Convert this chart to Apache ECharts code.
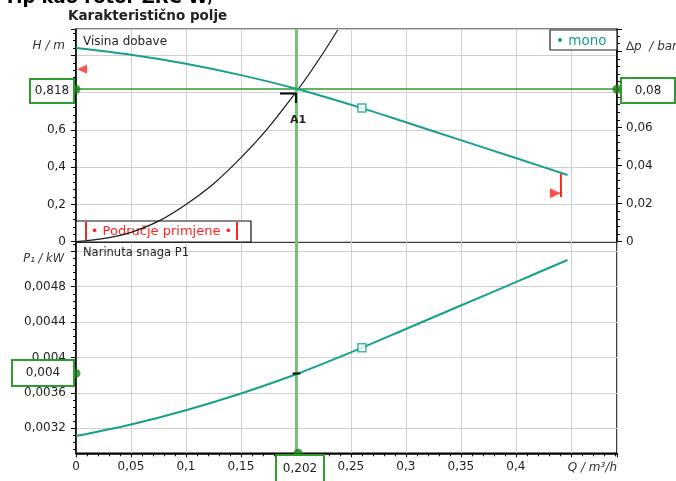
<!DOCTYPE html>
<html><head><meta charset="utf-8">
<script src="https://cdn.jsdelivr.net/npm/echarts@6/dist/echarts.min.js"></script>
<style>html,body{margin:0;padding:0;background:#fff}#c{width:676px;height:481px}</style>
</head><body><div id="c"></div>
<script>
// ---- data ----
const qCurve     = [0, 0.05, 0.1, 0.15, 0.202, 0.26, 0.3, 0.35, 0.4, 0.447];
const headCurve  = [1.039, 1.003, 0.955, 0.894, 0.818, 0.717, 0.641, 0.545, 0.449, 0.358];
const powerCurve = [0.003113, 0.003244, 0.003405, 0.003594, 0.00382, 0.00411, 0.004322, 0.004587, 0.004852, 0.005101];
const qSystem = [0, 0.05, 0.1, 0.15, 0.2, 0.238];
const hSystem = [0, 0.05, 0.2, 0.451, 0.802, 1.136];
const dutyPoint = [0.202, 0.818];        // Q, H
const dutyDp = 0.08;                      // bar
const dutyP = 0.00382;                    // kW
const dutyPLabel = 0.004;
const markerPoint = [0.26, 0.717, 0.00411]; // Q, H, P
const limitLeft = [0.0055, 0.926];
const limitRight = [0.441, 0.365, 0.24];  // Q, H top, H bottom
const limitFlag = [0.436, 0.26];
const a1Mark = [[0.1855, 0.796], [0.2, 0.796], [0.2, 0.745]];
const qRange = [0, 0.492];
const hRange = [0, 1.14];
const pRange = [0.002918, 0.005308];
const pTickValues = [0.0032, 0.0036, 0.004, 0.0044, 0.0048, 0.0052];
const pLabelValues = [0.0032, 0.0036, 0.004, 0.0044, 0.0048];

const dpMax = hRange[1] * dutyDp / dutyPoint[1];
const pMinor = [];
for (let v = 0.00296; v < pRange[1]; v += 0.00008) pMinor.push(+v.toFixed(6));

const teal = '#17a08c', dkGreen = '#2f9a2f', ltGreen = '#74c474', dotGreen = '#1b7d1b', red = '#ff2424';
const fmt = v => String(parseFloat((+v).toFixed(6))).replace('.', ',');
const FONT = '"DejaVu Sans", Verdana, sans-serif';
const lblStyle = { fontSize: 12, color: '#1e1e1e', fontFamily: FONT };
const near = (a, b) => Math.abs(a - b) < 1e-9;

const chart = echarts.init(document.getElementById('c'), null, { renderer: 'canvas' });

const G0 = { left: 76, right: 59, top: 29.3, height: 212.4 };
const G1 = { left: 76, right: 59, top: 241.7, height: 211.6 };

function xAx(gi, labels) {
  return {
    type: 'value', gridIndex: gi, min: qRange[0], max: qRange[1], interval: 0.05,
    axisLine: { show: labels, lineStyle: { color: '#000', width: 1.5 } },
    axisTick: { show: labels, length: 4, lineStyle: { color: '#000' } },
    minorTick: { show: labels, splitNumber: 5, length: 3, lineStyle: { color: '#000' } },
    axisLabel: { show: labels, margin: 8, showMaxLabel: false, ...lblStyle,
      formatter: v => near(v, 0.45) ? '' : fmt(v) },
    splitLine: { show: true, lineStyle: { color: '#cfcfcf', width: 1 } }
  };
}

function txt(x, y, text, font, fill, align) {
  return { type: 'text', x, y, z: 101, style: { text, fill: fill || '#222', font: font + ' ' + FONT,
    textAlign: align || 'left', align: align || 'left', textVerticalAlign: 'middle', verticalAlign: 'middle' } };
}

const option = {
  animation: false,
  backgroundColor: '#fff',
  grid: [
    { ...G0, show: true, borderColor: '#000', borderWidth: 1.5, backgroundColor: 'transparent' },
    { ...G1, show: true, borderColor: '#000', borderWidth: 1.5, backgroundColor: 'transparent' }
  ],
  xAxis: [xAx(0, false), xAx(1, true)],
  yAxis: [
    { type: 'value', gridIndex: 0, position: 'left', min: hRange[0], max: hRange[1], interval: 0.2,
      axisLine: { show: true, lineStyle: { color: '#000', width: 1.5 } },
      axisTick: { show: true, length: 5, lineStyle: { color: '#000' } },
      minorTick: { show: true, splitNumber: 5, length: 3, lineStyle: { color: '#000' } },
      axisLabel: { margin: 10, showMaxLabel: false, ...lblStyle, formatter: v => near(v, 1) ? '' : fmt(v) },
      splitLine: { show: true, lineStyle: { color: '#cfcfcf', width: 1 } } },
    { type: 'value', gridIndex: 0, position: 'right', min: 0, max: dpMax, interval: 0.02,
      axisLine: { show: true, lineStyle: { color: '#000', width: 1.5 } },
      axisTick: { show: true, length: 5, lineStyle: { color: '#000' } },
      minorTick: { show: true, splitNumber: 5, length: 3, lineStyle: { color: '#000' } },
      axisLabel: { margin: 9, showMaxLabel: false, ...lblStyle, formatter: v => near(v, 0.1) ? '' : fmt(v) },
      splitLine: { show: false } },
    { type: 'value', gridIndex: 1, position: 'left', min: pRange[0], max: pRange[1],
      axisLine: { show: true, lineStyle: { color: '#000', width: 1.5 } },
      axisTick: { show: true, length: 5, customValues: pTickValues, lineStyle: { color: '#000' } },
      axisLabel: { margin: 10, customValues: pLabelValues, ...lblStyle, formatter: v => fmt(v) },
      splitLine: { show: true, lineStyle: { color: '#cfcfcf', width: 1 } } },
    { type: 'value', gridIndex: 1, position: 'left', min: pRange[0], max: pRange[1],
      axisLine: { show: false },
      axisTick: { show: true, length: 3, customValues: pMinor, lineStyle: { color: '#000' } },
      axisLabel: { show: false },
      splitLine: { show: false } }
  ],
  series: [
    { type: 'line', xAxisIndex: 0, yAxisIndex: 0, smooth: 0.3, symbol: 'none', z: 5,
      data: qCurve.map((q, i) => [q, headCurve[i]]),
      lineStyle: { color: teal, width: 2 },
      markLine: { silent: true, symbol: 'none', label: { show: false },
        data: [
          { yAxis: dutyPoint[1], lineStyle: { color: dkGreen, width: 1.5, type: 'solid' } },
          { xAxis: dutyPoint[0], lineStyle: { color: ltGreen, width: 3, type: 'solid' } }
        ] } },
    { type: 'line', xAxisIndex: 0, yAxisIndex: 0, smooth: 0.4, symbol: 'none', z: 4,
      data: qSystem.map((q, i) => [q, hSystem[i]]),
      lineStyle: { color: '#1a1a1a', width: 1.2 } },
    { type: 'scatter', xAxisIndex: 0, yAxisIndex: 0, symbol: 'rect', symbolSize: 8, z: 6,
      data: [[markerPoint[0], markerPoint[1]]],
      itemStyle: { color: '#fff', borderColor: teal, borderWidth: 1.5 } },
    { type: 'scatter', xAxisIndex: 0, yAxisIndex: 0, symbol: 'circle', symbolSize: 9, clip: false, z: 7,
      data: [[qRange[0], dutyPoint[1]], [qRange[1], dutyPoint[1]]],
      itemStyle: { color: dotGreen } },
    { type: 'line', xAxisIndex: 0, yAxisIndex: 0, symbol: 'none', z: 8,
      data: a1Mark, lineStyle: { color: '#000', width: 2 } },
    { type: 'scatter', xAxisIndex: 0, yAxisIndex: 0, symbol: 'triangle', symbolRotate: 90, symbolSize: [9, 10], clip: false, z: 7,
      data: [limitLeft], itemStyle: { color: red } },
    { type: 'line', xAxisIndex: 0, yAxisIndex: 0, symbol: 'none', z: 7,
      data: [[limitRight[0], limitRight[1]], [limitRight[0], limitRight[2]]],
      lineStyle: { color: red, width: 2 } },
    { type: 'scatter', xAxisIndex: 0, yAxisIndex: 0, symbol: 'triangle', symbolRotate: -90, symbolSize: [10, 11], z: 7,
      data: [limitFlag], itemStyle: { color: red } },

    { type: 'line', xAxisIndex: 1, yAxisIndex: 2, smooth: 0.3, symbol: 'none', z: 5,
      data: qCurve.map((q, i) => [q, powerCurve[i]]),
      lineStyle: { color: teal, width: 2 },
      markLine: { silent: true, symbol: 'none', label: { show: false },
        data: [
          { yAxis: dutyP, lineStyle: { color: dkGreen, width: 1.5, type: 'solid' } },
          { xAxis: dutyPoint[0], lineStyle: { color: ltGreen, width: 3, type: 'solid' } }
        ] } },
    { type: 'scatter', xAxisIndex: 1, yAxisIndex: 2, symbol: 'rect', symbolSize: 8, z: 6,
      data: [[markerPoint[0], markerPoint[2]]],
      itemStyle: { color: '#fff', borderColor: teal, borderWidth: 1.5 } },
    { type: 'scatter', xAxisIndex: 1, yAxisIndex: 2, symbol: 'circle', symbolSize: 9, clip: false, z: 7,
      data: [[qRange[0], dutyP], [dutyPoint[0], pRange[0]]],
      itemStyle: { color: dotGreen } },
    { type: 'line', xAxisIndex: 1, yAxisIndex: 2, symbol: 'none', z: 7,
      data: [[dutyPoint[0] - 0.005, dutyP], [dutyPoint[0] + 0.002, dutyP]],
      lineStyle: { color: '#000', width: 2 } }
  ],
  graphic: [
    { type: 'text', left: 4, top: -11, z: 100, style: { text: 'Tip kao rotor ZRC W/', fill: '#000', font: 'bold 18px ' + FONT } },
    txt(68, 16, 'Karakteristično polje', 'bold 13.5px', '#222'),
    txt(83, 41.5, 'Visina dobave', '12px', '#222'),
    txt(83, 253, 'Narinuta snaga P1', '11.5px', '#222'),
    txt(65, 46, 'H / m', 'italic 12px', '#333', 'right'),
    txt(626, 47, '∆p  / bar', 'italic 12px', '#333'),
    txt(64, 259, 'P₁ / kW', 'italic 11.5px', '#333', 'right'),
    txt(617, 468, 'Q / m³/h', 'italic 12px', '#333', 'right'),
    txt(298, 120.5, 'A1', 'bold 11px', '#222', 'center'),
    // legend
    { type: 'rect', z: 100, shape: { x: 550, y: 30, width: 67, height: 20 }, style: { fill: '#fff', stroke: '#222', lineWidth: 1.2 } },
    txt(556, 41, '• mono', '13.5px', teal),
    // application range box
    { type: 'rect', z: 1, shape: { x: 76, y: 221, width: 175, height: 21 }, style: { fill: '#fff', stroke: '#111', lineWidth: 1.2 } },
    { type: 'line', z: 3, shape: { x1: 86, y1: 222, x2: 86, y2: 240 }, style: { stroke: red, lineWidth: 2 } },
    { type: 'line', z: 3, shape: { x1: 237, y1: 222, x2: 237, y2: 240 }, style: { stroke: red, lineWidth: 2 } },
    { ...txt(161.5, 231.5, '• Područje primjene •', '13px', red, 'center'), z: 3 },
    // green value boxes
    { type: 'rect', z: 100, shape: { x: 30, y: 79, width: 44, height: 24 }, style: { fill: '#fff', stroke: dkGreen, lineWidth: 2 } },
    txt(52, 91, fmt(dutyPoint[1]), '12px', '#222', 'center'),
    { type: 'rect', z: 100, shape: { x: 621, y: 78, width: 54, height: 25 }, style: { fill: '#fff', stroke: dkGreen, lineWidth: 2 } },
    txt(648, 90.5, fmt(dutyDp), '12px', '#222', 'center'),
    { type: 'rect', z: 100, shape: { x: 12, y: 360, width: 62, height: 26 }, style: { fill: '#fff', stroke: dkGreen, lineWidth: 2 } },
    txt(43, 373, fmt(dutyPLabel), '12px', '#222', 'center'),
    { type: 'rect', z: 100, shape: { x: 276, y: 455, width: 48, height: 32 }, style: { fill: '#fff', stroke: dkGreen, lineWidth: 2 } },
    txt(300, 469, fmt(dutyPoint[0]), '12px', '#222', 'center')
  ]
};
chart.setOption(option);
</script>
</body></html>
